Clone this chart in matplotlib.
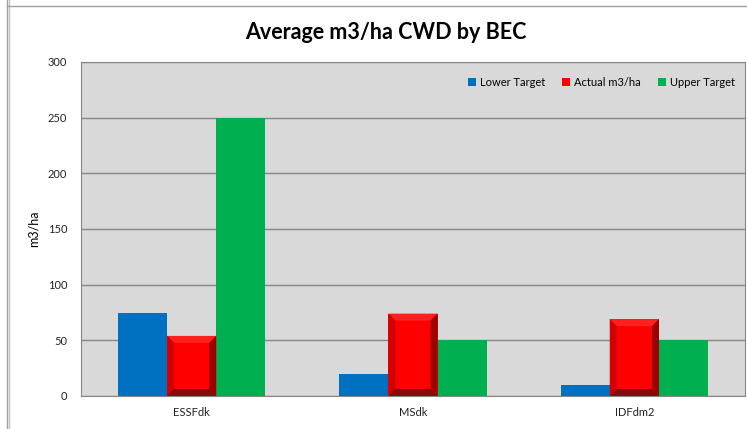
import numpy as np
import matplotlib.pyplot as plt
from matplotlib.patches import Polygon
from matplotlib.lines import Line2D

categories = ["ESSFdk", "MSdk", "IDFdm2"]
lower_target = [75, 20, 10]
actual = [54, 74, 69]
upper_target = [250, 50, 50]
yticks = [0, 50, 100, 150, 200, 250, 300]

blue = "#0070c0"
red = "#ff0000"
green = "#00b050"

plt.rcParams["font.family"] = ["Lato", "DejaVu Sans"]

fig = plt.figure(figsize=(7.47, 4.29), dpi=100)
ax = fig.add_axes([81 / 747, 33 / 429, 664 / 747, 334 / 429])
ax.set_facecolor("#d9d9d9")

x = np.arange(len(categories))
w = 0.222
ax.set_xlim(-0.5, len(categories) - 0.5)
ax.set_ylim(0, 300)
ax.set_yticks(yticks)
ax.yaxis.grid(True, color="#868686", linewidth=1)
ax.set_axisbelow(True)

ax.bar(x - w, lower_target, w, color=blue, label="Lower Target", zorder=2)
ax.bar(x, actual, w, color=red, label="Actual m3/ha", zorder=2)
ax.bar(x + w, upper_target, w, color=green, label="Upper Target", zorder=2)

# bevel on the red bars, 7 px wide, converted to data units
fig.canvas.draw()
p0 = ax.transData.transform((0, 0))
p1 = ax.transData.transform((1, 1))
bx = 7 / (p1[0] - p0[0])
by = 7 / (p1[1] - p0[1])
for xi, h in zip(x, actual):
    l, r, b, t = xi - w / 2, xi + w / 2, 0, h
    il, ir, ib, it = l + bx, r - bx, b + by, t - by
    sides = [
        ([(l, t), (r, t), (ir, it), (il, it)], "#ff2020"),
        ([(l, b), (l, t), (il, it), (il, ib)], "#d20000"),
        ([(r, b), (r, t), (ir, it), (ir, ib)], "#9c0000"),
        ([(l, b), (r, b), (ir, ib), (il, ib)], "#850c0c"),
    ]
    for pts, c in sides:
        ax.add_patch(Polygon(pts, closed=True, facecolor=c, edgecolor="none", zorder=3))

for s in ax.spines.values():
    s.set_color("#868686")
ax.set_xticks(x)
ax.set_xticklabels(categories)
ax.tick_params(axis="both", length=0, labelsize=8, colors="#222222")
ax.tick_params(axis="y", pad=10)
ax.tick_params(axis="x", pad=8)
ax.set_ylabel("m3/ha", fontsize=9, labelpad=6)

ax.legend(loc="upper right", ncol=3, frameon=False, fontsize=8,
          handlelength=0.7, handleheight=0.7, handletextpad=0.4,
          columnspacing=1.5, bbox_to_anchor=(1.0, 0.985))

fig.text(0.516, 0.925, "Average m3/ha CWD by BEC", ha="center", va="center",
         fontsize=15.5, fontweight="bold")

# spreadsheet cell lines around the chart
fig.add_artist(Line2D([7 / 747, 7 / 747], [0, 1], color="#a0a0a0", lw=1))
fig.add_artist(Line2D([9 / 747, 9 / 747], [0, 1], color="#c0c0c0", lw=1))
fig.add_artist(Line2D([7 / 747, 1], [1 - 6 / 429, 1 - 6 / 429], color="#a0a0a0", lw=1))

fig.savefig("out.png", dpi=100)
